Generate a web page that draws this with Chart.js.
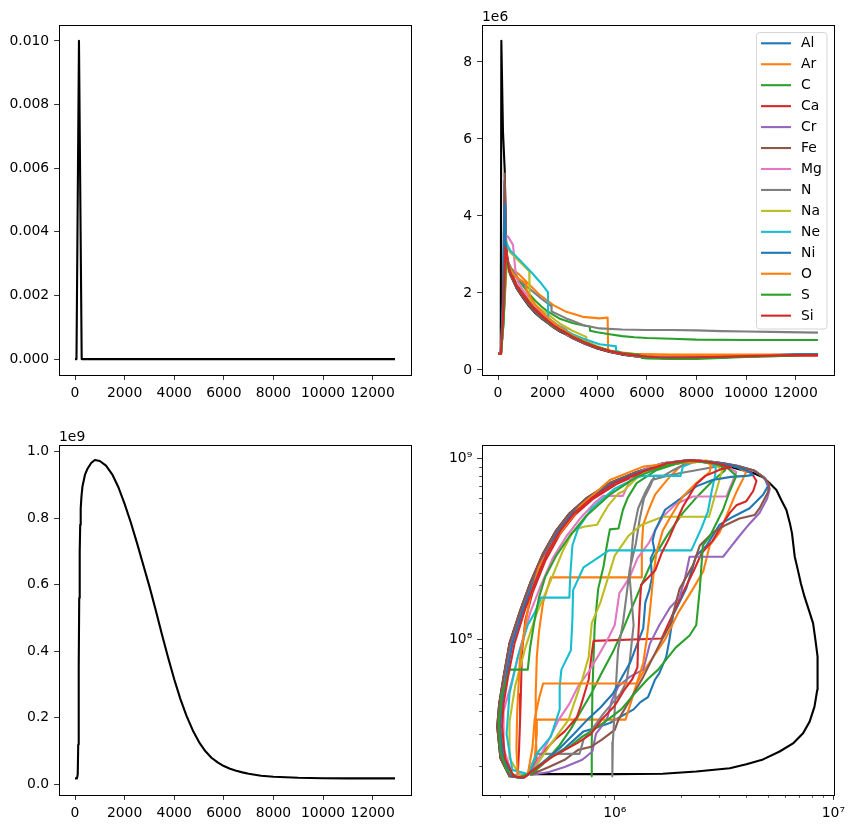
<!DOCTYPE html>
<html><head><meta charset="utf-8">
<script src="https://cdn.jsdelivr.net/npm/chart.js@4.4.1/dist/chart.umd.min.js"></script>
<style>
html,body{margin:0;padding:0;background:#fff;}
#wrap{position:relative;width:855px;height:833px;background:#fff;}
canvas{position:absolute;}
</style></head><body>
<div id="wrap">
<canvas id="c1" width="430" height="410" style="left:0;top:0;width:430px;height:410px"></canvas>
<canvas id="c2" width="425" height="410" style="left:430px;top:0;width:425px;height:410px"></canvas>
<canvas id="c3" width="430" height="423" style="left:0;top:410px;width:430px;height:423px"></canvas>
<canvas id="c4" width="425" height="423" style="left:430px;top:410px;width:425px;height:423px"></canvas>
</div>
<script>
// ---------------- DATA ----------------
const elements = ['Al','Ar','C','Ca','Cr','Fe','Mg','N','Na','Ne','Ni','O','S','Si'];
const xTicksTime = [0,2000,4000,6000,8000,10000,12000];

// top-left: spike
const tlTime  = [0, 60, 160, 270, 12900];
const tlValue = [0, 0, 0.010, 0, 0];
const tlYTicks = [0,0.002,0.004,0.006,0.008,0.010];

// bottom-left: temperature vs time (units 1e9)
const blTime = [0,80,110,130,150,170,190,210,230,260,300,400,500,650,800,1000,1250,1500,1750,2000,2250,2500,2750,3000,3250,3500,3750,4000,4250,4500,4750,5000,5250,5500,5750,6000,6250,6500,6750,7000,7500,8000,9000,10000,11000,12000,12900];
const blTemp = [0.018,0.018,0.03,0.12,0.35,0.56,0.7,0.78,0.83,0.865,0.895,0.93,0.948,0.966,0.975,0.972,0.958,0.932,0.893,0.843,0.787,0.725,0.66,0.595,0.525,0.452,0.382,0.316,0.256,0.205,0.162,0.127,0.1,0.08,0.066,0.055,0.047,0.041,0.036,0.032,0.026,0.023,0.0198,0.0185,0.018,0.018,0.018];
const blYTicks = [0,0.2,0.4,0.6,0.8,1.0];

// top-right: density vs time, [time, value in 1e6]
const trBlack = [[0,0.42],[110,0.42],[135,8.55],[200,6.2],[270,5.2],[330,3.2],[400,2.68],[500,2.47],[750,2.12],[1000,1.88],[1250,1.66],[1500,1.48],[1750,1.34],[2000,1.22],[2250,1.1],[2500,1.0],[2750,0.92],[3000,0.83],[3500,0.68],[4000,0.56],[4500,0.47],[5000,0.40],[5500,0.36],[6000,0.33],[6500,0.31],[7000,0.30],[8000,0.31],[9000,0.33],[10000,0.35],[11000,0.37],[12000,0.39],[12900,0.40]];
const trAl = [[0,0.42],[110,0.42],[200,1.8],[260,4.9],[320,3.3],[400,2.72],[500,2.5],[750,2.15],[1000,1.92],[1250,1.7],[1500,1.52],[1750,1.37],[2000,1.25],[2250,1.12],[2500,1.03],[2750,0.95],[3000,0.85],[3500,0.7],[4000,0.58],[4500,0.49],[5000,0.42],[5500,0.37],[6000,0.34],[6500,0.32],[7000,0.31],[8000,0.315],[9000,0.335],[10000,0.36],[11000,0.38],[12000,0.4],[12900,0.41]];
const trAr = [[0,0.42],[120,0.42],[220,1.4],[330,2.68],[450,2.66],[605,2.6],[874,2.47],[1277,2.21],[1680,1.95],[2215,1.69],[2755,1.51],[3423,1.38],[4096,1.34],[4420,1.36],[4440,0.52],[4600,0.49],[5000,0.45],[5500,0.42],[6000,0.41],[7000,0.40],[8000,0.40],[10000,0.40],[12900,0.40]];
const trC = [[0,0.42],[120,0.42],[230,1.3],[320,2.9],[400,2.8],[600,2.55],[800,2.35],[1000,2.2],[1250,1.98],[1500,1.8],[1750,1.65],[2000,1.52],[2500,1.33],[3000,1.22],[3500,1.15],[3700,1.13],[3710,1.02],[4000,0.98],[4500,0.93],[5000,0.88],[5500,0.85],[6000,0.83],[7000,0.81],[8000,0.79],[10000,0.78],[12900,0.78]];
const trCa = [[0,0.42],[120,0.42],[220,1.5],[300,3.25],[400,2.85],[500,2.6],[750,2.22],[1000,2.0],[1250,1.8],[1500,1.62],[1750,1.44],[2000,1.3],[2250,1.16],[2500,1.06],[2750,0.97],[3000,0.87],[3500,0.71],[4000,0.59],[4500,0.5],[5000,0.43],[5500,0.38],[6000,0.35],[6500,0.33],[7000,0.32],[8000,0.32],[9000,0.33],[10000,0.35],[11000,0.36],[12000,0.37],[12900,0.37]];
const trCr = [[0,0.42],[110,0.42],[210,1.5],[270,4.8],[330,3.0],[400,2.7],[500,2.49],[750,2.14],[1000,1.91],[1250,1.69],[1500,1.51],[1750,1.36],[2000,1.24],[2250,1.11],[2500,1.02],[2750,0.94],[3000,0.84],[3500,0.69],[4000,0.575],[4500,0.485],[5000,0.415],[5500,0.365],[6000,0.335],[6500,0.315],[7000,0.305],[8000,0.31],[9000,0.33],[10000,0.355],[11000,0.375],[12000,0.395],[12900,0.405]];
const trFe = [[0,0.42],[110,0.42],[200,1.6],[270,5.1],[330,3.1],[400,2.7],[500,2.48],[750,2.13],[1000,1.9],[1250,1.68],[1500,1.5],[1750,1.35],[2000,1.23],[2250,1.1],[2500,1.01],[2750,0.93],[3000,0.83],[3500,0.68],[4000,0.565],[4500,0.475],[5000,0.405],[5500,0.36],[6000,0.33],[6500,0.31],[7000,0.30],[8000,0.305],[9000,0.325],[10000,0.35],[11000,0.37],[12000,0.39],[12900,0.40]];
const trMg = [[0,0.42],[120,0.42],[220,1.3],[330,3.5],[420,3.45],[605,3.25],[700,2.6],[800,2.3],[1000,2.08],[1500,1.66],[2000,1.36],[2352,1.17],[2750,1.08],[2760,0.93],[3000,0.86],[3500,0.71],[4000,0.59],[4500,0.49],[5000,0.42],[5500,0.37],[6000,0.34],[6500,0.32],[7000,0.31],[8000,0.315],[9000,0.335],[10000,0.36],[11000,0.38],[12000,0.395],[12900,0.405]];
const trN = [[0,0.42],[120,0.42],[220,1.5],[320,2.95],[400,2.8],[600,2.55],[874,2.34],[1000,2.25],[1422,2.03],[1750,1.85],[2082,1.69],[2150,1.67],[2160,1.52],[2755,1.34],[3000,1.28],[3423,1.17],[4096,1.08],[5000,1.05],[6000,1.04],[7000,1.04],[8000,1.03],[9000,1.01],[10000,1.0],[11000,0.99],[12900,0.97]];
const trNa = [[0,0.42],[120,0.42],[230,1.5],[330,3.35],[471,3.07],[874,2.81],[1209,2.6],[1260,2.57],[1270,1.85],[1500,1.68],[2000,1.45],[2500,1.2],[3000,1.02],[3550,0.86],[3560,0.74],[4000,0.62],[4500,0.5],[5000,0.43],[5500,0.38],[6000,0.345],[6500,0.325],[7000,0.315],[8000,0.32],[9000,0.34],[10000,0.36],[11000,0.38],[12000,0.395],[12900,0.405]];
const trNe = [[0,0.42],[120,0.42],[220,1.2],[330,3.3],[500,3.1],[874,2.86],[1400,2.5],[1700,2.28],[2013,2.02],[2023,1.35],[2500,1.12],[3000,0.93],[3500,0.8],[4096,0.67],[4700,0.62],[4750,0.62],[4760,0.5],[5000,0.45],[5500,0.39],[6000,0.355],[6500,0.33],[7000,0.32],[8000,0.32],[9000,0.335],[10000,0.355],[11000,0.375],[12000,0.39],[12900,0.4]];
const trNi = [[0,0.42],[110,0.42],[210,1.6],[270,4.3],[330,2.9],[400,2.7],[500,2.5],[750,2.16],[1000,1.93],[1250,1.71],[1500,1.53],[1750,1.38],[2000,1.26],[2250,1.13],[2500,1.04],[2750,0.96],[3000,0.86],[3500,0.71],[4000,0.59],[4500,0.5],[5000,0.43],[5500,0.38],[6000,0.345],[6500,0.325],[7000,0.315],[8000,0.32],[9000,0.34],[10000,0.365],[11000,0.385],[12000,0.405],[12900,0.415]];
const trO = [[0,0.42],[120,0.42],[230,1.4],[350,2.7],[450,2.68],[600,2.5],[800,2.38],[1000,2.3],[1140,2.25],[1150,2.05],[1500,1.7],[2000,1.36],[2500,1.1],[3000,0.9],[3500,0.74],[4000,0.6],[4500,0.5],[5000,0.44],[5500,0.41],[6000,0.4],[7000,0.39],[8000,0.39],[10000,0.39],[12900,0.39]];
const trS = [[0,0.42],[120,0.42],[230,1.3],[330,2.9],[400,2.75],[500,2.52],[750,2.17],[1000,1.94],[1250,1.72],[1500,1.54],[1750,1.39],[2000,1.27],[2250,1.14],[2500,1.05],[2750,0.96],[3000,0.87],[3500,0.72],[4000,0.6],[4500,0.5],[5000,0.44],[5500,0.41],[5700,0.40],[5800,0.31],[6000,0.30],[7000,0.29],[8000,0.29],[9000,0.31],[10000,0.34],[11000,0.36],[12000,0.38],[12900,0.4]];
const trSi = [[0,0.42],[120,0.42],[220,1.6],[300,3.2],[400,2.75],[500,2.52],[750,2.17],[1000,1.94],[1250,1.73],[1500,1.55],[1750,1.4],[2000,1.28],[2250,1.15],[2500,1.05],[2750,0.96],[3000,0.86],[3500,0.71],[4000,0.585],[4500,0.49],[5000,0.425],[5500,0.38],[6000,0.35],[6500,0.33],[7000,0.325],[8000,0.33],[9000,0.345],[10000,0.36],[11000,0.375],[12000,0.385],[12900,0.39]];
const trYTicks = [0,2,4,6,8];

// bottom-right: temperature (1e9) vs density (1e6), [density, temperature]
const brBlack = [[0.41,0.018],[1.0,0.018],[1.66,0.0181],[2.36,0.0186],[3.36,0.0194],[4.0,0.0204],[4.77,0.0217],[5.68,0.024],[6.54,0.0266],[7.27,0.0303],[7.79,0.0351],[8.2,0.0425],[8.44,0.0525],[8.5,0.065],[8.44,0.0802],[8.28,0.0992],[8.08,0.1226],[7.73,0.145],[7.38,0.172],[7.1,0.204],[6.88,0.242],[6.66,0.286],[6.55,0.339],[6.47,0.385],[6.33,0.437],[6.1,0.518],[5.77,0.59],[5.49,0.669],[5.12,0.728],[4.77,0.785],[4.3,0.83],[3.7,0.87],[3.13,0.92],[2.62,0.95],[2.2,0.978],[1.66,0.94],[1.26,0.84],[0.95,0.73],[0.74,0.6],[0.62,0.496],[0.54,0.4],[0.47,0.298],[0.41,0.204],[0.37,0.145],[0.33,0.095],[0.31,0.062],[0.296,0.044],[0.29,0.033],[0.3,0.022],[0.33,0.0175],[0.37,0.0172],[0.4,0.018]];
const brAl = [[0.41,0.0178],[0.5,0.022],[0.59,0.025],[0.72,0.031],[0.82,0.0325],[0.95,0.0345],[1.09,0.038],[1.22,0.041],[1.31,0.045],[1.42,0.048],[1.53,0.06],[1.6,0.065],[1.72,0.08],[1.78,0.1],[1.85,0.136],[2.12,0.19],[2.36,0.29],[2.63,0.33],[3.02,0.43],[3.48,0.476],[4.14,0.53],[4.77,0.63],[5.02,0.7],[4.85,0.78],[4.35,0.855],[3.65,0.91],[3.15,0.94],[2.7,0.962],[2.2,0.978],[1.7,0.94],[1.3,0.84],[0.98,0.73],[0.76,0.6],[0.64,0.496],[0.555,0.4],[0.48,0.298],[0.42,0.204],[0.378,0.145],[0.34,0.095],[0.318,0.062],[0.303,0.044],[0.297,0.033],[0.306,0.022],[0.338,0.0175],[0.38,0.0172],[0.405,0.018]];
const brAr = [[0.4,0.018],[0.43,0.022],[0.44,0.03],[0.44,0.036],[1.12,0.036],[1.2,0.047],[1.26,0.057],[1.35,0.066],[1.5,0.08],[1.7,0.1],[1.95,0.14],[2.28,0.19],[2.54,0.237],[2.72,0.33],[3.02,0.39],[3.24,0.48],[3.6,0.65],[3.86,0.77],[3.99,0.84],[3.6,0.9],[3.0,0.94],[2.5,0.965],[2.2,0.975],[1.95,0.88],[1.8,0.8],[1.64,0.7],[1.53,0.63],[1.43,0.52],[1.35,0.43],[1.33,0.33],[1.33,0.22],[0.51,0.22],[0.47,0.16],[0.45,0.11],[0.44,0.08],[0.435,0.05],[0.435,0.03],[0.44,0.0215],[0.44,0.018]];
const brC = [[0.41,0.0178],[0.48,0.021],[0.56,0.026],[0.63,0.032],[0.7,0.04],[0.78,0.05],[0.87,0.065],[0.98,0.085],[1.08,0.11],[1.2,0.15],[1.35,0.21],[1.5,0.28],[1.75,0.38],[2.05,0.5],[2.4,0.62],[2.8,0.75],[3.2,0.86],[3.0,0.93],[2.6,0.96],[2.3,0.97],[1.9,0.93],[1.55,0.86],[1.26,0.73],[1.15,0.61],[1.09,0.52],[1.04,0.41],[0.95,0.405],[0.92,0.33],[0.89,0.255],[0.84,0.19],[0.81,0.12],[0.8,0.08],[0.79,0.05],[0.785,0.027],[0.785,0.0175]];
const brCa = [[0.4,0.018],[0.465,0.0234],[0.53,0.0278],[0.59,0.031],[0.67,0.037],[0.7,0.043],[0.73,0.051],[0.76,0.06],[0.785,0.084],[0.8,0.098],[1.64,0.101],[1.75,0.12],[1.88,0.145],[2.0,0.17],[2.3,0.24],[2.5,0.3],[2.8,0.35],[3.1,0.43],[3.36,0.5],[3.6,0.55],[4.0,0.58],[4.3,0.66],[4.45,0.75],[4.2,0.84],[3.6,0.9],[3.1,0.94],[2.65,0.962],[2.2,0.976],[1.72,0.93],[1.32,0.83],[1.02,0.72],[0.8,0.6],[0.66,0.49],[0.56,0.38],[0.48,0.27],[0.42,0.18],[0.39,0.128],[0.376,0.084],[0.372,0.05],[0.369,0.036],[0.365,0.025],[0.36,0.0178]];
const brCr = [[0.41,0.0178],[0.5,0.0185],[0.59,0.0197],[0.71,0.0216],[0.79,0.024],[0.82,0.03],[0.92,0.036],[0.97,0.046],[1.04,0.055],[1.17,0.062],[1.35,0.068],[1.45,0.095],[1.6,0.12],[1.79,0.15],[1.98,0.17],[2.1,0.22],[2.2,0.286],[3.13,0.286],[3.3,0.31],[3.7,0.37],[4.1,0.43],[4.6,0.5],[4.98,0.6],[5.12,0.68],[4.9,0.77],[4.4,0.85],[3.7,0.905],[3.1,0.94],[2.6,0.965],[2.15,0.977],[1.68,0.94],[1.28,0.84],[0.96,0.73],[0.75,0.6],[0.63,0.496],[0.545,0.4],[0.475,0.298],[0.415,0.204],[0.372,0.145],[0.333,0.095],[0.312,0.062],[0.298,0.044],[0.292,0.033],[0.302,0.022],[0.335,0.0175],[0.375,0.0172],[0.4,0.018]];
const brFe = [[0.41,0.0178],[0.5,0.0197],[0.59,0.0216],[0.68,0.0245],[0.78,0.0255],[0.87,0.0278],[1.0,0.0316],[1.04,0.036],[1.17,0.046],[1.35,0.062],[1.61,0.095],[1.79,0.12],[1.98,0.19],[2.28,0.257],[2.45,0.33],[2.82,0.39],[3.24,0.43],[3.72,0.465],[4.36,0.486],[4.6,0.53],[5.02,0.65],[5.1,0.72],[4.77,0.79],[4.3,0.86],[3.6,0.91],[3.13,0.94],[2.7,0.96],[2.2,0.978],[1.66,0.94],[1.26,0.84],[0.95,0.73],[0.74,0.6],[0.62,0.496],[0.54,0.4],[0.47,0.298],[0.41,0.204],[0.37,0.145],[0.33,0.095],[0.31,0.062],[0.296,0.044],[0.29,0.033],[0.3,0.022],[0.33,0.0175],[0.37,0.0172],[0.4,0.018]];
const brMg = [[0.41,0.0178],[0.5,0.028],[0.555,0.036],[0.62,0.044],[0.68,0.055],[0.765,0.067],[0.85,0.083],[0.94,0.103],[1.0,0.12],[1.05,0.18],[1.17,0.22],[1.27,0.28],[1.43,0.34],[1.53,0.4],[1.66,0.476],[1.9,0.56],[2.28,0.615],[3.24,0.615],[3.6,0.84],[3.2,0.92],[2.8,0.955],[2.3,0.975],[1.75,0.95],[1.45,0.9],[1.2,0.8],[1.09,0.62],[0.885,0.62],[0.8,0.56],[0.7,0.47],[0.6,0.37],[0.52,0.28],[0.46,0.2],[0.41,0.14],[0.37,0.09],[0.34,0.06],[0.31,0.04],[0.31,0.025],[0.34,0.0178],[0.4,0.018]];
const brN = [[0.41,0.0178],[0.44,0.0233],[0.69,0.0233],[0.72,0.028],[0.79,0.032],[0.89,0.039],[1.06,0.05],[1.13,0.058],[1.17,0.075],[1.2,0.1],[1.22,0.12],[1.17,0.22],[1.22,0.4],[1.28,0.53],[1.38,0.65],[1.48,0.76],[1.66,0.79],[2.0,0.83],[2.5,0.87],[2.9,0.9],[2.7,0.95],[2.4,0.97],[2.1,0.93],[1.85,0.86],[1.67,0.8],[1.52,0.8],[1.45,0.7],[1.36,0.6],[1.3,0.46],[1.25,0.34],[1.17,0.242],[1.13,0.172],[1.09,0.123],[1.035,0.087],[1.018,0.062],[1.0,0.041],[0.98,0.027],[0.975,0.0175]];
const brNa = [[0.41,0.0178],[0.5,0.0255],[0.615,0.036],[0.71,0.06],[0.76,0.08],[0.785,0.123],[0.86,0.16],[1.0,0.29],[1.16,0.375],[1.33,0.43],[1.66,0.476],[2.7,0.476],[3.1,0.86],[2.9,0.92],[2.75,0.96],[2.6,0.975],[2.57,0.955],[1.85,0.955],[1.6,0.92],[1.4,0.85],[1.25,0.77],[1.15,0.7],[1.1,0.66],[1.04,0.64],[0.935,0.55],[0.87,0.476],[0.83,0.43],[0.73,0.42],[0.68,0.41],[0.64,0.39],[0.58,0.31],[0.5,0.2],[0.44,0.14],[0.39,0.09],[0.35,0.055],[0.33,0.035],[0.33,0.022],[0.37,0.0175],[0.4,0.018]];
const brNe = [[0.4,0.018],[0.44,0.0234],[0.51,0.029],[0.56,0.041],[0.56,0.055],[0.57,0.068],[0.63,0.087],[0.64,0.128],[0.645,0.187],[0.72,0.25],[0.83,0.28],[0.94,0.31],[2.24,0.31],[2.49,0.41],[2.67,0.51],[2.77,0.65],[2.87,0.79],[2.9,0.88],[2.8,0.94],[2.36,0.965],[2.05,0.9],[2.0,0.8],[1.35,0.8],[1.28,0.79],[1.0,0.68],[0.785,0.53],[0.68,0.41],[0.64,0.33],[0.625,0.22],[0.62,0.17],[0.46,0.17],[0.43,0.14],[0.4,0.12],[0.36,0.08],[0.33,0.05],[0.32,0.03],[0.34,0.019],[0.4,0.018]];
const brNi = [[0.4,0.018],[0.47,0.021],[0.56,0.025],[0.65,0.03],[0.75,0.036],[0.86,0.042],[0.98,0.05],[1.08,0.062],[1.18,0.075],[1.27,0.095],[1.35,0.115],[1.38,0.16],[1.44,0.187],[1.48,0.22],[1.46,0.28],[1.52,0.31],[1.49,0.35],[1.53,0.4],[1.7,0.52],[2.0,0.6],[2.36,0.7],[2.8,0.76],[3.4,0.79],[4.0,0.8],[4.3,0.81],[4.0,0.86],[3.5,0.905],[3.0,0.94],[2.6,0.963],[2.2,0.977],[1.71,0.94],[1.3,0.84],[0.98,0.73],[0.76,0.6],[0.64,0.496],[0.556,0.4],[0.484,0.298],[0.422,0.204],[0.381,0.145],[0.34,0.095],[0.319,0.062],[0.305,0.044],[0.299,0.033],[0.309,0.022],[0.34,0.0175],[0.38,0.0172],[0.405,0.018]];
const brO = [[0.4,0.018],[0.42,0.025],[0.43,0.036],[0.45,0.047],[0.47,0.057],[1.26,0.057],[1.3,0.064],[1.35,0.074],[1.4,0.1],[1.45,0.145],[1.5,0.222],[1.55,0.3],[1.66,0.4],[1.79,0.47],[2.05,0.615],[2.36,0.73],[2.72,0.84],[2.75,0.92],[2.6,0.96],[2.35,0.975],[2.35,0.95],[2.15,0.95],[1.75,0.93],[1.35,0.9],[0.95,0.76],[0.69,0.54],[0.52,0.34],[0.45,0.25],[0.41,0.172],[0.39,0.12],[0.368,0.077],[0.358,0.04],[0.355,0.025],[0.36,0.0178]];
const brS = [[0.41,0.0178],[0.5,0.022],[0.62,0.0255],[0.71,0.029],[0.81,0.032],[0.93,0.036],[1.07,0.041],[1.23,0.05],[1.41,0.06],[1.58,0.068],[1.9,0.09],[2.2,0.105],[2.36,0.12],[2.45,0.19],[2.53,0.33],[2.72,0.37],[3.13,0.52],[3.36,0.66],[3.6,0.8],[3.3,0.88],[2.8,0.94],[2.2,0.97],[1.66,0.9],[1.26,0.79],[0.95,0.63],[0.74,0.48],[0.62,0.37],[0.54,0.29],[0.48,0.22],[0.45,0.17],[0.43,0.128],[0.41,0.09],[0.4,0.068],[0.33,0.068],[0.305,0.05],[0.295,0.035],[0.3,0.024],[0.32,0.019],[0.36,0.0172],[0.4,0.018]];
const brSi = [[0.4,0.018],[0.52,0.0225],[0.67,0.0266],[0.78,0.03],[0.87,0.036],[1.0,0.043],[1.1,0.052],[1.2,0.06],[1.27,0.07],[1.28,0.1],[1.3,0.15],[1.32,0.2],[1.53,0.24],[1.64,0.3],[1.77,0.36],[1.9,0.44],[2.05,0.54],[2.36,0.72],[2.6,0.8],[3.1,0.875],[3.4,0.89],[3.0,0.93],[2.6,0.96],[2.2,0.977],[1.74,0.94],[1.33,0.84],[1.0,0.73],[0.78,0.6],[0.65,0.496],[0.565,0.4],[0.49,0.298],[0.43,0.204],[0.388,0.145],[0.348,0.095],[0.325,0.062],[0.31,0.044],[0.305,0.033],[0.315,0.022],[0.345,0.0175],[0.385,0.0172],[0.405,0.018]];
const brXTicks = [1e6, 1e7];
const brYTicks = [1e8, 1e9];
const brXMinor = [3e5,4e5,5e5,6e5,7e5,8e5,9e5,2e6,3e6,4e6,5e6,6e6,7e6,8e6,9e6];
const brYMinor = [2e7,3e7,4e7,5e7,6e7,7e7,8e7,9e7,2e8,3e8,4e8,5e8,6e8,7e8,8e8,9e8];

// ---------------- RENDER ----------------
const trSeries = [trAl,trAr,trC,trCa,trCr,trFe,trMg,trN,trNa,trNe,trNi,trO,trS,trSi];
const brSeries = [brAl,brAr,brC,brCa,brCr,brFe,brMg,brN,brNa,brNe,brNi,brO,brS,brSi];
const palette = ['#1f77b4','#ff7f0e','#2ca02c','#d62728','#9467bd','#8c564b','#e377c2','#7f7f7f','#bcbd22','#17becf'];
const FS = 13.9;
const FAM = "'DejaVu Sans', sans-serif";
Chart.defaults.font.family = FAM;
Chart.defaults.font.size = FS;
Chart.defaults.color = '#000';

function axis(type, min, max, tickVals, fmt, fixed, isX) {
  return {
    type, min, max,
    afterBuildTicks: s => { s.ticks = tickVals.map(v => ({value: v})); },
    afterFit: s => {
      if (isX) s.height = fixed; else s.width = fixed;
      s.paddingLeft = 0; s.paddingRight = 0; s.paddingTop = 0; s.paddingBottom = 0;
    },
    ticks: {autoSkip:false, maxRotation:0, minRotation:0, padding:4.9, color:'#000',
            font:{family:FAM, size:FS}, callback: v => fmt(v)},
    grid: {display:true, drawOnChartArea:false, drawTicks:true, tickLength:4.9, tickWidth:0.8, tickColor:'#000'},
    border: {display:false}
  };
}

function framePlugin(offsetText, minor) {
  return {
    id: 'frame',
    afterDraw(chart) {
      const {ctx, chartArea: a} = chart;
      ctx.save();
      if (minor) {
        ctx.strokeStyle = '#000'; ctx.lineWidth = 0.7;
        const xs = chart.scales.x, ys = chart.scales.y;
        minor.x.forEach(v => {
          const px = Math.round(xs.getPixelForValue(v)) + 0.5;
          ctx.beginPath(); ctx.moveTo(px, a.bottom); ctx.lineTo(px, a.bottom + 2.8); ctx.stroke();
        });
        minor.y.forEach(v => {
          const py = Math.round(ys.getPixelForValue(v)) + 0.5;
          ctx.beginPath(); ctx.moveTo(a.left, py); ctx.lineTo(a.left - 2.8, py); ctx.stroke();
        });
      }
      ctx.strokeStyle = '#000'; ctx.lineWidth = 1;
      ctx.strokeRect(a.left + 0.5, a.top + 0.5, a.right - a.left, a.bottom - a.top);
      if (offsetText) {
        ctx.fillStyle = '#000';
        ctx.font = FS + 'px ' + FAM;
        ctx.textAlign = 'left'; ctx.textBaseline = 'alphabetic';
        ctx.fillText(offsetText, a.left, a.top - 4);
      }
      ctx.restore();
    }
  };
}

const legendPlugin = {
  id: 'boxLegend',
  afterDraw(chart) {
    const ctx = chart.ctx;
    const items = chart.data.datasets.filter(d => d.label);
    const x0 = 326.5, y0 = 32.5, w = 70.5, h = 296.5, r = 3;
    ctx.save();
    ctx.beginPath();
    ctx.moveTo(x0 + r, y0); ctx.lineTo(x0 + w - r, y0); ctx.arcTo(x0 + w, y0, x0 + w, y0 + r, r);
    ctx.lineTo(x0 + w, y0 + h - r); ctx.arcTo(x0 + w, y0 + h, x0 + w - r, y0 + h, r);
    ctx.lineTo(x0 + r, y0 + h); ctx.arcTo(x0, y0 + h, x0, y0 + h - r, r);
    ctx.lineTo(x0, y0 + r); ctx.arcTo(x0, y0, x0 + r, y0, r); ctx.closePath();
    ctx.fillStyle = 'rgba(255,255,255,0.8)'; ctx.fill();
    ctx.strokeStyle = 'rgba(204,204,204,0.8)'; ctx.lineWidth = 1; ctx.stroke();
    ctx.font = FS + 'px ' + FAM; ctx.textAlign = 'left'; ctx.textBaseline = 'middle';
    items.forEach((d, i) => {
      const y = 43.3 + i * 20.95;
      ctx.strokeStyle = d.borderColor; ctx.lineWidth = 2.1;
      ctx.beginPath(); ctx.moveTo(331, y); ctx.lineTo(361, y); ctx.stroke();
      ctx.fillStyle = '#000';
      ctx.fillText(d.label, 371, y + 0.5);
    });
    ctx.restore();
  }
};

function lineDs(label, pts, color, order) {
  return {label, data: pts, borderColor: color, backgroundColor: color, borderWidth: 2.1,
          pointRadius: 0, tension: 0, fill: false, order, borderJoinStyle: 'round'};
}

function base(datasets, L, T, R, B, W, H, xs, ys, plugins) {
  return {
    type: 'line',
    data: {datasets},
    options: {
      responsive: false, animation: false, devicePixelRatio: 1, events: [],
      parsing: true, normalized: false,
      layout: {padding: {left: 0, top: T, right: W - R, bottom: 0}},
      plugins: {legend: {display: false}, tooltip: {enabled: false}},
      scales: {x: xs, y: ys}
    },
    plugins
  };
}

const tFmt = v => String(v);
const XMIN = -645, XMAX = 13545;

// Top-left
new Chart(document.getElementById('c1'), base(
  [lineDs('', tlTime.map((t, i) => ({x: t, y: tlValue[i]})), '#000', 0)],
  59, 25, 411, 375, 430, 410,
  axis('linear', XMIN, XMAX, xTicksTime, tFmt, 35, true),
  axis('linear', -0.0005, 0.0105, tlYTicks, v => v.toFixed(3), 59, false),
  [framePlugin(null, null)]
));

// Top-right
const trDatasets = trSeries.map((s, i) => lineDs(elements[i], s.map(p => ({x: p[0], y: p[1] * 1e6})), palette[i % 10], -i));
trDatasets.push(lineDs('', trBlack.map(p => ({x: p[0], y: p[1] * 1e6})), '#000', 100));
new Chart(document.getElementById('c2'), base(
  trDatasets, 52, 25, 404, 375, 425, 410,
  axis('linear', XMIN, XMAX, xTicksTime, tFmt, 35, true),
  axis('linear', -0.13e6, 8.96e6, trYTicks.map(v => v * 1e6), v => String(Math.round(v / 1e6)), 52, false),
  [framePlugin('1e6', null), legendPlugin]
));

// Bottom-left
new Chart(document.getElementById('c3'), base(
  [lineDs('', blTime.map((t, i) => ({x: t, y: blTemp[i] * 1e9})), '#000', 0)],
  59, 35, 411, 385, 430, 423,
  axis('linear', XMIN, XMAX, xTicksTime, tFmt, 38, true),
  axis('linear', -0.032e9, 1.02e9, blYTicks.map(v => v * 1e9), v => (v / 1e9).toFixed(1), 59, false),
  [framePlugin('1e9', null)]
));

// Bottom-right
const sup = {6:'\u2076', 7:'\u2077', 8:'\u2078', 9:'\u2079'};
const powFmt = v => '10' + sup[Math.round(Math.log10(v))];
const brDatasets = brSeries.map((s, i) => lineDs(elements[i], s.map(p => ({x: p[0] * 1e6, y: p[1] * 1e9})), palette[i % 10], -i));
brDatasets.push(lineDs('', brBlack.map(p => ({x: p[0] * 1e6, y: p[1] * 1e9})), '#000', 100));
new Chart(document.getElementById('c4'), base(
  brDatasets, 52, 35, 404, 385, 425, 423,
  axis('logarithmic', 2.47e5, 1.007e7, brXTicks, powFmt, 38, true),
  axis('logarithmic', 1.38e7, 1.185e9, brYTicks, powFmt, 52, false),
  [framePlugin(null, {x: brXMinor, y: brYMinor})]
));
</script>
</body></html>
